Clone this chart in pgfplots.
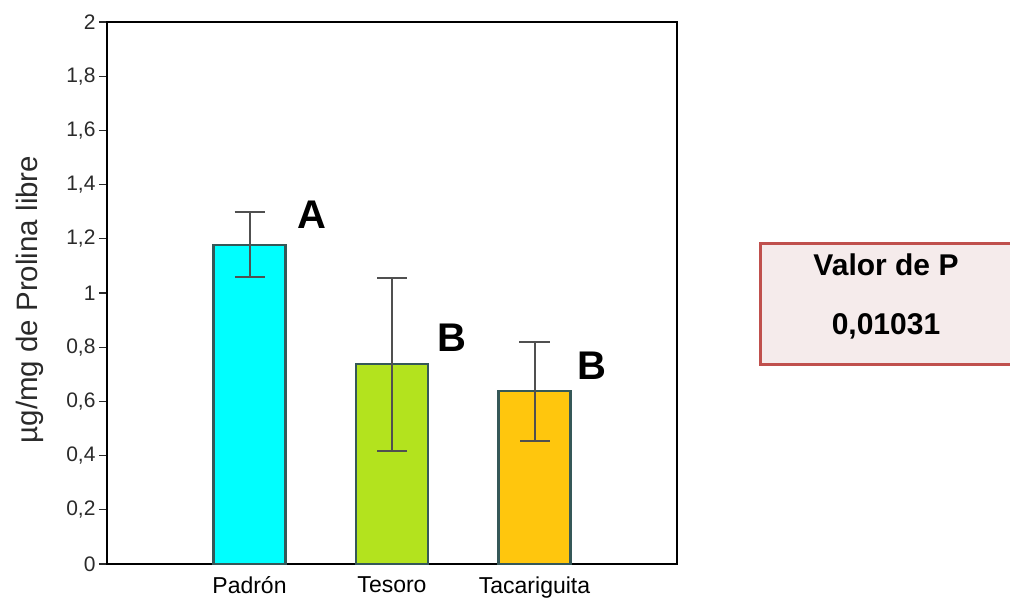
\documentclass[border=0pt]{standalone}
\usepackage{pgfplots}
\pgfplotsset{compat=1.18}
\usepackage{fontspec}
\setmainfont{Liberation Sans}
\definecolor{cPad}{HTML}{00FFFF}
\definecolor{cTes}{HTML}{B3E31E}
\definecolor{cTac}{HTML}{FFC60D}
\definecolor{edge}{HTML}{355858}
\definecolor{errc}{HTML}{505050}
\definecolor{boxfill}{HTML}{F5EBEB}
\definecolor{boxdraw}{HTML}{C0504D}
\definecolor{txt}{HTML}{2A2A2A}
\begin{document}
\begin{tikzpicture}[x=1pt,y=1pt]
\begin{axis}[
  at={(107pt,36pt)}, anchor=south west,
  scale only axis, width=570pt, height=542pt,
  xmin=0, xmax=4, ymin=0, ymax=2,
  axis line style={line width=1.8pt, black},
  xtick={1,2,3}, xticklabels={Padrón,Tesoro,Tacariguita},
  xtick style={draw=none},
  xticklabel style={font=\fontsize{23}{25}\selectfont, text=black, yshift=-1pt},
  ytick={0,0.2,0.4,0.6,0.8,1,1.2,1.4,1.6,1.8,2},
  ytick pos=left, tick align=outside,
  major tick length=8pt,
  ytick style={line width=1.3pt, txt},
  yticklabel style={font=\fontsize{21}{23}\selectfont, text=txt},
  /pgf/number format/assume math mode=true,
  /pgf/number format/use comma,
  yticklabel={\pgfmathprintnumber{\tick}},
  ylabel={µg/mg de Prolina libre},
  ylabel style={at={(axis description cs:-0.135,0.488)}, anchor=center, font=\fontsize{29.5}{31}\selectfont, text=txt},
  clip=false,
]
\addplot[ybar, bar shift=0pt, bar width=72pt, fill=cPad, draw=edge, line width=2.2pt,
  error bars/.cd, y dir=both, y explicit, error bar style={errc, line width=2pt},
  error mark options={rotate=90, mark size=15pt, line width=2pt, errc}]
  coordinates {(1,1.178) +- (0,0.12)};
\addplot[ybar, bar shift=0pt, bar width=72pt, fill=cTes, draw=edge, line width=2.2pt,
  error bars/.cd, y dir=both, y explicit, error bar style={errc, line width=2pt},
  error mark options={rotate=90, mark size=15pt, line width=2pt, errc}]
  coordinates {(2,0.737) +- (0,0.32)};
\addplot[ybar, bar shift=0pt, bar width=72pt, fill=cTac, draw=edge, line width=2.2pt,
  error bars/.cd, y dir=both, y explicit, error bar style={errc, line width=2pt},
  error mark options={rotate=90, mark size=15pt, line width=2pt, errc}]
  coordinates {(3,0.637) +- (0,0.184)};
\node[font=\fontsize{40}{42}\selectfont\bfseries] at (axis cs:1.44,1.29) {A};
\node[font=\fontsize{40}{42}\selectfont\bfseries] at (axis cs:2.42,0.836) {B};
\node[font=\fontsize{40}{42}\selectfont\bfseries] at (axis cs:3.40,0.73) {B};
\end{axis}
\draw[line width=3pt, draw=boxdraw, fill=boxfill] (760pt,235pt) rectangle (1015pt,356pt);
\node[font=\fontsize{30}{32}\selectfont\bfseries] at (886pt,335pt) {Valor de P};
\node[font=\fontsize{30}{32}\selectfont\bfseries] at (886pt,274pt) {0,01031};
\pgfresetboundingbox
\path[use as bounding box] (0,0) rectangle (1010pt,600pt);
\end{tikzpicture}
\end{document}
